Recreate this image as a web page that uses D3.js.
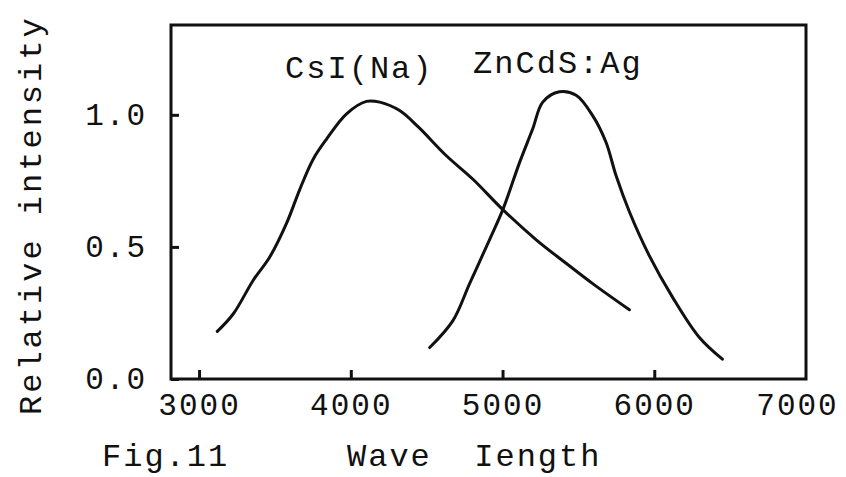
<!DOCTYPE html>
<html>
<head>
<meta charset="utf-8">
<script src="https://cdn.jsdelivr.net/npm/d3@7"></script>
<style>
  body { margin: 0; background: #fff; }
  svg text { font-family: "Liberation Mono", "DejaVu Sans Mono", monospace; fill: #111; }
</style>
</head>
<body>
<svg id="chart"></svg>
<script>
// wavelength (Angstrom) / relative intensity
const csiWave = [3120, 3226, 3357, 3467, 3577, 3664, 3752, 3840, 3972, 4103, 4191, 4322, 4443, 4630, 4805, 5002, 5222, 5419, 5594, 5836];
const csiValue = [0.18, 0.247, 0.374, 0.463, 0.59, 0.718, 0.832, 0.908, 1.004, 1.051, 1.048, 1.016, 0.955, 0.845, 0.756, 0.641, 0.527, 0.438, 0.361, 0.262];

const zncdsWave = [4520, 4673, 4783, 4914, 5002, 5112, 5199, 5265, 5375, 5485, 5594, 5682, 5748, 5836, 5967, 6120, 6296, 6449];
const zncdsValue = [0.119, 0.221, 0.361, 0.527, 0.641, 0.819, 0.947, 1.048, 1.087, 1.074, 0.997, 0.896, 0.77, 0.633, 0.467, 0.31, 0.158, 0.075];

const xTicks = [3000, 4000, 5000, 6000, 7000];
const yTicks = [0, 0.5, 1.0];
const seriesNames = ["CsI(Na)", "ZnCdS:Ag"];
const labelWave = [3567, 4806];
const labelValue = [1.14, 1.159];

const W = 846, H = 477;
const plot = { left: 171, right: 806, top: 25, bottom: 379 };

const svg = d3.select("#chart").attr("width", W).attr("height", H);

const x = d3.scaleLinear().domain([2815, 7000]).range([plot.left, plot.right]);
const y = d3.scaleLinear().domain([0, 1.34]).range([plot.bottom, plot.top]);

// frame
svg.append("rect")
  .attr("x", plot.left).attr("y", plot.top)
  .attr("width", plot.right - plot.left).attr("height", plot.bottom - plot.top)
  .attr("fill", "none").attr("stroke", "#111").attr("stroke-width", 3);

const xAxis = d3.axisBottom(x).tickValues(xTicks).tickSize(-9).tickPadding(14).tickFormat(d3.format("d"));
const yAxis = d3.axisLeft(y).tickValues(yTicks).tickSize(-8).tickPadding(24).tickFormat(d3.format(".1f"));

const gx = svg.append("g").attr("transform", "translate(0," + plot.bottom + ")").call(xAxis);
const gy = svg.append("g").attr("transform", "translate(" + plot.left + ",0)").call(yAxis);

[gx, gy].forEach(g => {
  g.select(".domain").remove();
  g.selectAll(".tick line").attr("stroke", "#111").attr("stroke-width", 3);
  g.selectAll(".tick text").attr("font-size", 31).attr("letter-spacing", 2).attr("fill", "#111")
    .style("font-family", "'Liberation Mono', monospace");
});
// last tick sits on the right border: no tick mark, label pulled in a bit
const lastTick = gx.selectAll(".tick").filter(d => d === 7000);
lastTick.select("line").remove();
lastTick.select("text").attr("dx", -9);

// curves
const line = d3.line()
  .x(d => x(d[0]))
  .y(d => y(d[1]))
  .curve(d3.curveCatmullRom.alpha(0.5));

const series = [d3.zip(csiWave, csiValue), d3.zip(zncdsWave, zncdsValue)];

svg.selectAll(".curve")
  .data(series)
  .enter()
  .append("path")
  .attr("class", "curve")
  .attr("d", line)
  .attr("fill", "none")
  .attr("stroke", "#111")
  .attr("stroke-width", 3)
  .attr("stroke-linecap", "round");

svg.selectAll(".series-label")
  .data(seriesNames)
  .enter()
  .append("text")
  .attr("class", "series-label")
  .attr("x", (d, i) => x(labelWave[i]))
  .attr("y", (d, i) => y(labelValue[i]))
  .attr("font-size", 32)
  .attr("letter-spacing", 2)
  .text(d => d);

// axis titles
svg.append("text")
  .attr("transform", "translate(41,415) rotate(-90)")
  .attr("font-size", 32)
  .attr("letter-spacing", 3)
  .text("Relative intensity");

svg.append("text")
  .attr("x", 102).attr("y", 466)
  .attr("font-size", 32)
  .attr("letter-spacing", 2)
  .text("Fig.11");

svg.append("text")
  .attr("x", 347).attr("y", 466)
  .attr("font-size", 32)
  .attr("letter-spacing", 2)
  .style("white-space", "pre")
  .text("Wave  Iength");
</script>
</body>
</html>
